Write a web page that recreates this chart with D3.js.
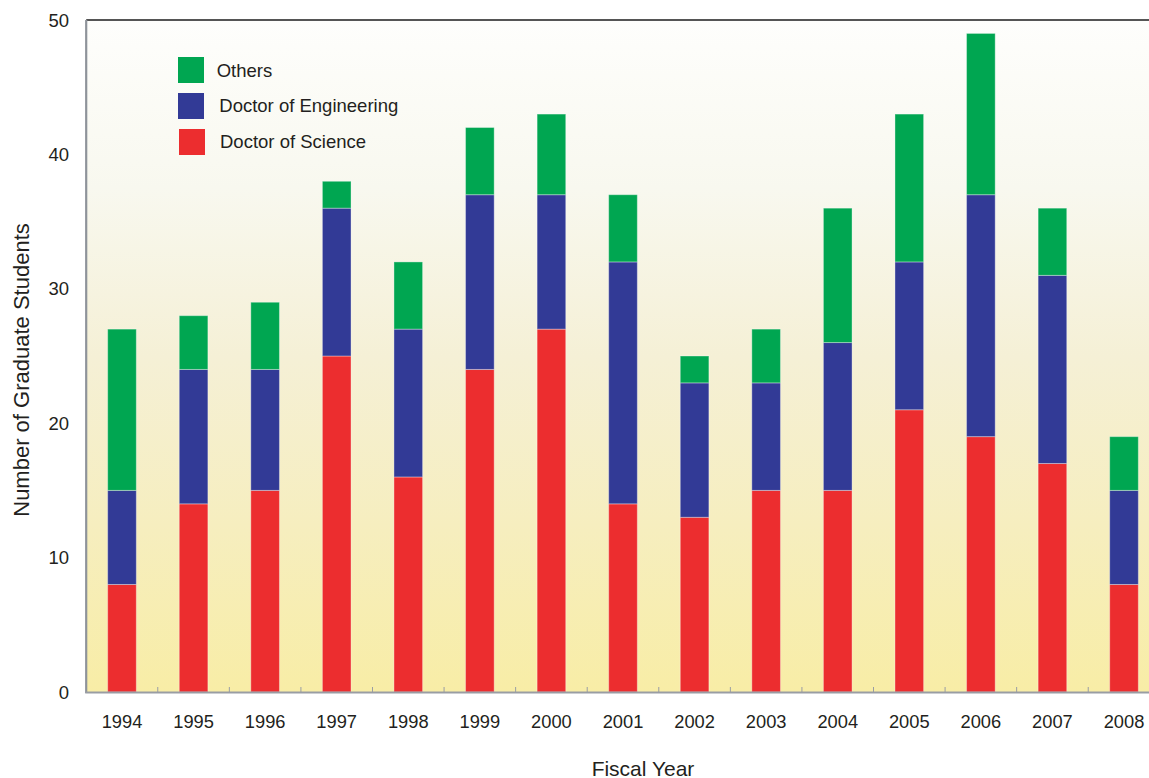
<!DOCTYPE html>
<html>
<head>
<meta charset="utf-8">
<script src="https://cdn.jsdelivr.net/npm/d3@7"></script>
<style>
  html, body { margin: 0; padding: 0; background: #ffffff; }
  svg { display: block; font-family: "Liberation Sans", Arial, sans-serif; }
</style>
</head>
<body>
<svg id="chart" width="1149" height="778"></svg>
<script>
// ---- data ----
const years = ["1994","1995","1996","1997","1998","1999","2000","2001","2002","2003","2004","2005","2006","2007","2008"];
const doctorOfScience     = [8, 14, 15, 25, 16, 24, 27, 14, 13, 15, 15, 21, 19, 17, 8];
const doctorOfEngineering = [7, 10,  9, 11, 11, 13, 10, 18, 10,  8, 11, 11, 18, 14, 7];
const others              = [12, 4,  5,  2,  5,  5,  6,  5,  2,  4, 10, 11, 12,  5, 4];
const seriesNames = ["Doctor of Science", "Doctor of Engineering", "Others"];
const legendOrder = ["Others", "Doctor of Engineering", "Doctor of Science"];
const yTicks = [0, 10, 20, 30, 40, 50];
const xTitle = "Fiscal Year";
const yTitle = "Number of Graduate Students";

(function () {
const colors = {
  "Doctor of Science": "#ec2d2f",
  "Doctor of Engineering": "#323a96",
  "Others": "#00a651"
};

const svg = d3.select("#chart");
const pLeft = 86.2, pRight = 1159.8, pTop = 20, pBottom = 692;

const x = d3.scaleBand().domain(years).range([pLeft, pRight]).paddingInner(0.6).paddingOuter(0.3);
const y = d3.scaleLinear().domain([0, 50]).range([pBottom, pTop]);

// background gradient
const defs = svg.append("defs");
const grad = defs.append("linearGradient").attr("id", "bg").attr("x1", 0).attr("y1", 0).attr("x2", 0).attr("y2", 1);
[[0, "#fefefc"], [0.25, "#f8f8ef"], [0.5, "#f5f0d6"], [0.75, "#f6eebf"], [1, "#f8eda6"]].forEach(([o, c]) =>
  grad.append("stop").attr("offset", o).attr("stop-color", c));

svg.append("rect").attr("x", pLeft).attr("y", pTop).attr("width", 1149 - pLeft).attr("height", pBottom - pTop)
  .attr("fill", "url(#bg)");

// stacked data
const table = years.map((yr, i) => ({
  year: yr,
  "Doctor of Science": doctorOfScience[i],
  "Doctor of Engineering": doctorOfEngineering[i],
  "Others": others[i]
}));
const stacked = d3.stack().keys(seriesNames)(table);

svg.append("g").selectAll("g").data(stacked).join("g")
  .attr("fill", d => colors[d.key])
  .selectAll("rect").data(d => d).join("rect")
  .attr("x", d => x(d.data.year))
  .attr("width", x.bandwidth())
  .attr("y", d => y(d[1]))
  .attr("height", d => y(d[0]) - y(d[1]))
  .attr("stroke", "rgba(255,255,255,0.35)")
  .attr("stroke-width", 1);

// top border line
svg.append("line").attr("x1", pLeft).attr("x2", 1149).attr("y1", pTop).attr("y2", pTop)
  .attr("stroke", "#555555").attr("stroke-width", 2);

// left axis line
svg.append("line").attr("x1", pLeft).attr("x2", pLeft).attr("y1", pTop).attr("y2", pBottom + 1)
  .attr("stroke", "#8e939a").attr("stroke-width", 2.2);

// bottom axis line
svg.append("line").attr("x1", pLeft - 1).attr("x2", 1149).attr("y1", pBottom + 0.5).attr("y2", pBottom + 0.5)
  .attr("stroke", "#999da4").attr("stroke-width", 2.2);

// x ticks between categories
const step = x.step();
svg.append("g").selectAll("line").data(years.slice(1)).join("line")
  .attr("x1", d => x(d) - step * x.paddingInner() / 2)
  .attr("x2", d => x(d) - step * x.paddingInner() / 2)
  .attr("y1", pBottom - 5).attr("y2", pBottom)
  .attr("stroke", "#999da4").attr("stroke-width", 1);

// x labels
svg.append("g").selectAll("text").data(years).join("text")
  .attr("x", d => x(d) + x.bandwidth() / 2)
  .attr("y", 728)
  .attr("text-anchor", "middle")
  .attr("font-size", 18.3)
  .attr("fill", "#231f20")
  .text(d => d);

// y labels
svg.append("g").selectAll("text").data(yTicks).join("text")
  .attr("x", 69)
  .attr("y", d => y(d))
  .attr("dy", "0.36em")
  .attr("text-anchor", "end")
  .attr("font-size", 18.5)
  .attr("fill", "#231f20")
  .text(d => d);

// axis titles
svg.append("text").attr("x", 643).attr("y", 775.5).attr("text-anchor", "middle")
  .attr("font-size", 21).attr("fill", "#231f20").text(xTitle);

svg.append("text").attr("transform", "translate(28.5,370) rotate(-90)").attr("text-anchor", "middle")
  .attr("font-size", 22).attr("fill", "#231f20").text(yTitle);

// legend
const legendPos = [
  { sx: 178, sy: 57, tx: 216.7, ty: 77.3 },
  { sx: 178, sy: 93, tx: 219.3, ty: 111.7 },
  { sx: 179, sy: 129, tx: 220, ty: 148.3 }
];
const lg = svg.append("g");
legendOrder.forEach((name, i) => {
  const p = legendPos[i];
  lg.append("rect").attr("x", p.sx).attr("y", p.sy).attr("width", 26).attr("height", 26)
    .attr("fill", colors[name]);
  lg.append("text").attr("x", p.tx).attr("y", p.ty).attr("font-size", 18.5)
    .attr("fill", "#231f20").text(name);
});
})();
</script>
</body>
</html>
